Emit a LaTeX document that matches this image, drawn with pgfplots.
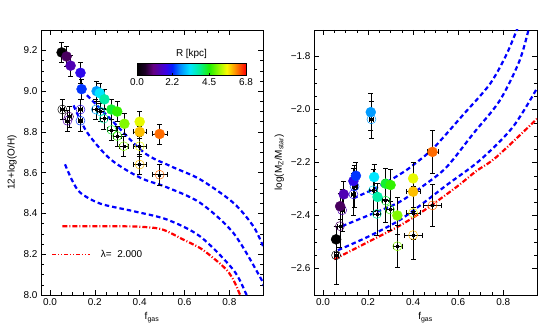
\documentclass[border=0pt]{standalone}
\usepackage{pgfplots}
\pgfplotsset{compat=1.18}
\usepackage{pgfplotstable}
\usepackage{fontspec}
\setmainfont{Liberation Sans}
\pgfplotsset{colormap={idl}{
 rgb255(0pt)=(0,0,0); rgb255(5pt)=(30,0,40); rgb255(10pt)=(100,0,130);
 rgb255(18pt)=(60,0,230); rgb255(22pt)=(0,30,255); rgb255(27pt)=(0,140,255);
 rgb255(33pt)=(0,230,255); rgb255(39pt)=(0,240,150); rgb255(45pt)=(30,240,0);
 rgb255(51pt)=(150,250,0); rgb255(56pt)=(250,250,0); rgb255(61pt)=(255,150,0);
 rgb255(68pt)=(255,0,0)}}
\pgfplotstableread{
x y r ex ey
0.052 9.19 0.0 0 0.05
0.074 9.17 0.8 0 0.05
0.092 9.125 1.4 0 0.05
0.136 9.09 1.9 0 0.05
0.141 9.01 2.3 0 0.05
0.208 9.00 2.8 0 0.05
0.222 8.99 3.3 0 0.05
0.243 8.96 3.8 0 0.05
0.274 8.91 4.3 0 0.05
0.300 8.90 4.6 0 0.05
0.332 8.84 5.0 0 0.05
0.400 8.85 5.5 0 0.05
0.400 8.80 5.9 0.03 0.03
0.489 8.79 6.3 0.035 0.05
}\leftfilled
\pgfplotstableread{
x y r ex ey
0.055 8.91 0.0 0.01 0.05
0.085 8.875 0.8 0.01 0.05
0.078 8.855 1.4 0.01 0.05
0.136 8.91 1.9 0.01 0.05
0.136 8.855 2.3 0.01 0.05
0.205 8.91 2.8 0.015 0.05
0.225 8.90 3.3 0.015 0.05
0.240 8.865 3.8 0.015 0.05
0.275 8.81 4.3 0.02 0.05
0.300 8.78 4.6 0.02 0.05
0.329 8.73 5.0 0.02 0.05
0.400 8.73 5.5 0.03 0.05
0.400 8.64 5.9 0.03 0.05
0.489 8.59 6.3 0.035 0.05
}\leftopen
\pgfplotstableread{
x y r ex ey
0.058 -2.49 0.0 0 0.05
0.076 -2.365 0.8 0 0.05
0.092 -2.32 1.4 0 0.05
0.135 -2.27 1.9 0 0.05
0.146 -2.25 2.3 0 0.05
0.212 -2.01 2.8 0 0.07
0.227 -2.255 3.3 0 0.05
0.242 -2.33 3.8 0 0.05
0.278 -2.28 4.3 0 0.06
0.300 -2.285 4.6 0 0.06
0.330 -2.40 5.0 0 0.07
0.400 -2.26 5.5 0 0.06
0.400 -2.31 5.9 0.03 0.06
0.486 -2.16 6.3 0.025 0.08
}\rightfilled
\pgfplotstableread{
x y r ex ey
0.058 -2.55 0.0 0.01 0.11
0.075 -2.44 0.8 0.01 0.08
0.085 -2.38 1.4 0.01 0.08
0.135 -2.32 1.9 0.01 0.08
0.140 -2.29 2.3 0.01 0.08
0.215 -2.037 2.8 0.01 0.07
0.222 -2.305 3.3 0.015 0.08
0.239 -2.394 3.8 0.015 0.08
0.278 -2.344 4.3 0.015 0.08
0.297 -2.377 4.6 0.015 0.08
0.330 -2.516 5.0 0.02 0.08
0.400 -2.39 5.5 0.03 0.10
0.400 -2.474 5.9 0.04 0.09
0.486 -2.362 6.3 0.04 0.08
}\rightopen
\pgfplotsset{
 myax/.style={scale only axis, width=222bp, height=265bp,
  xmin=-0.04, xmax=0.95, tick align=inside, minor tick num=3,
  major tick length=5bp, minor tick length=3bp,
  every tick/.style={black, line width=0.5bp},
  axis line style={line width=0.7bp},
  xtick={0,0.2,0.4,0.6,0.8}, xticklabels={0.0,0.2,0.4,0.6,0.8},
  xlabel={f\textsubscript{gas}},
  tick label style={font=\fontsize{10}{12}\selectfont},
  label style={font=\fontsize{10}{12}\selectfont},
  point meta min=0, point meta max=6.8, colormap name=idl,
  clip=true},
 filledpts/.style={scatter, only marks, mark=*, mark size=5bp, point meta=explicit,
  scatter/use mapped color={draw=mapped color, fill=mapped color},
  error bars/.cd, x dir=both, x explicit, y dir=both, y explicit,
  error bar style={black, line width=0.5bp},
  error mark options={rotate=90, black, mark size=2.5bp, line width=0.5bp},
  /pgfplots/.cd},
 openpts/.style={scatter, only marks, mark=o, mark size=4.5bp, point meta=explicit,
  scatter/use mapped color={draw=mapped color, fill=none},
  mark options={line width=0.5bp},
  error bars/.cd, x dir=both, x explicit, y dir=both, y explicit,
  error bar style={black, line width=0.5bp},
  error mark options={rotate=90, black, mark size=2.5bp, line width=0.5bp},
  /pgfplots/.cd},
 bluedash/.style={blue, line width=2.2bp, dash pattern=on 4.5bp off 3bp, smooth},
 reddash/.style={red, line width=2.2bp, dash pattern=on 5bp off 2bp on 1bp off 2bp, smooth},
}
\begin{document}
\begin{tikzpicture}[x=1bp,y=1bp]
\path[use as bounding box] (0,0) rectangle (538,334);
\begin{axis}[myax, at={(41bp,39bp)}, anchor=south west,
  ymin=8.0, ymax=9.3,
  ytick={8.0,8.2,8.4,8.6,8.8,9.0,9.2}, yticklabels={8.0,8.2,8.4,8.6,8.8,9.0,9.2},
  ylabel={12+log(O/H)},
  colorbar horizontal,
  colorbar style={at={(parent axis.north west)}, anchor=north west,
    xshift=96bp, yshift=-25bp, scale only axis, width=109bp, height=12bp,
    xtick={0,2.2,4.5,6.8}, xticklabels={0.0,2.2,4.5,6.8},
    title={R [kpc]}, title style={font=\fontsize{10}{12}\selectfont, yshift=-5bp},
    tick label style={font=\fontsize{10}{12}\selectfont},
    tick align=inside, xtick pos=left, major tick length=3bp, minor tick length=2bp,
    minor x tick num=1,
    xticklabel style={yshift=0bp}},
  legend style={draw=none, fill=none, at={(0.035,0.151)}, anchor=west,
    font=\fontsize{10}{12}\selectfont},
  legend cell align=left,
  legend image code/.code={\draw[draw=red, line width=1bp, dash pattern=on 4bp off 2bp on 1bp off 2bp on 1bp off 2bp] (0bp,0bp) -- (38bp,0bp);}
  ]
\addplot[reddash] coordinates {(0.055,8.337) (0.2,8.337) (0.3,8.337) (0.4,8.335) (0.5,8.322) (0.596,8.271) (0.67,8.23) (0.73,8.18) (0.788,8.123) (0.82,8.07) (0.848,8.0) (0.86,7.97)};
\addlegendentry{\hspace{8bp}λ= \ 2.000}
\addplot[forget plot, bluedash] coordinates {(0.165,8.98) (0.27,8.863) (0.418,8.70) (0.536,8.633) (0.67,8.567) (0.818,8.452) (0.907,8.337) (0.95,8.24)};
\addplot[forget plot, bluedash] coordinates {(0.105,8.93) (0.166,8.797) (0.27,8.666) (0.403,8.575) (0.522,8.528) (0.67,8.452) (0.818,8.304) (0.936,8.09) (0.955,8.04)};
\addplot[forget plot, bluedash] coordinates {(0.067,8.641) (0.1,8.56) (0.136,8.501) (0.225,8.448) (0.373,8.411) (0.522,8.37) (0.67,8.287) (0.818,8.123) (0.877,8.0) (0.89,7.97)};
\addplot[forget plot, openpts] table[x=x,y=y,meta=r,x error=ex,y error=ey] {\leftopen};
\addplot[forget plot, only marks, mark=square*, mark size=1bp, black] table[x=x,y=y] {\leftopen};
\addplot[forget plot, filledpts] table[x=x,y=y,meta=r,x error=ex,y error=ey] {\leftfilled};
\end{axis}
\begin{axis}[myax, at={(314bp,39bp)}, anchor=south west, width=223bp,
  ymin=-2.7, ymax=-1.7,
  ytick={-2.6,-2.4,-2.2,-2.0,-1.8}, yticklabels={−2.6,−2.4,−2.2,−2.0,−1.8},
  ylabel={log(M\textsubscript{Z}/M\textsubscript{star})}]
\addplot[reddash] coordinates {(0.05,-2.565) (0.2,-2.50) (0.337,-2.44) (0.45,-2.38) (0.593,-2.292) (0.681,-2.232) (0.769,-2.18) (0.95,-2.035)};
\addplot[bluedash] coordinates {(0.066,-2.531) (0.2,-2.48) (0.337,-2.419) (0.45,-2.35) (0.549,-2.285) (0.696,-2.192) (0.842,-2.067) (0.95,-1.92)};
\addplot[bluedash] coordinates {(0.085,-2.44) (0.2,-2.40) (0.337,-2.35) (0.45,-2.285) (0.549,-2.217) (0.666,-2.092) (0.784,-1.967) (0.872,-1.817) (0.915,-1.69)};
\addplot[bluedash] coordinates {(0.135,-2.335) (0.25,-2.29) (0.35,-2.24) (0.403,-2.208) (0.491,-2.145) (0.622,-2.02) (0.74,-1.905) (0.813,-1.795) (0.865,-1.69)};
\addplot[openpts] table[x=x,y=y,meta=r,x error=ex,y error=ey] {\rightopen};
\addplot[only marks, mark=square*, mark size=1bp, black] table[x=x,y=y] {\rightopen};
\addplot[filledpts] table[x=x,y=y,meta=r,x error=ex,y error=ey] {\rightfilled};
\end{axis}
\end{tikzpicture}
\end{document}
